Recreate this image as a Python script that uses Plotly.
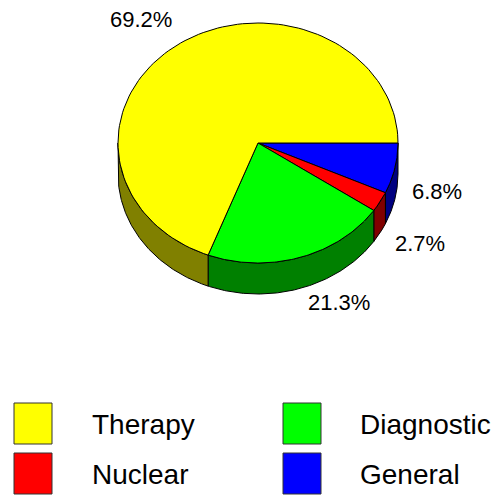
import numpy as np
import plotly.graph_objects as go

# ---- data ----
categories = ["General", "Nuclear", "Diagnostic", "Therapy"]
values = [6.8, 2.7, 21.3, 69.2]
top_colors = ["#0000FF", "#FF0000", "#00FF00", "#FFFF00"]
side_colors = ["#000080", "#800000", "#008000", "#808000"]
legend_order = ["Therapy", "Diagnostic", "Nuclear", "General"]

# ---- style / geometry ----
W, H = 497, 496
CX, CY = 258, 143
RX, RY = 140, 120
DEPTH = 31
FONT = "Liberation Sans, Arial, sans-serif"
label_pos = {"General": (437, 191), "Nuclear": (420, 243),
             "Diagnostic": (339, 302), "Therapy": (141, 19)}

fig = go.Figure()

total = sum(values)
angles = np.cumsum([0] + [v / total * 360 for v in values])


def arc(a0, a1, n=120):
    t = np.radians(np.linspace(a0, a1, n))
    return CX + RX * np.cos(t), CY + RY * np.sin(t)

# side walls (front half: 0..180 deg, clockwise on screen)
for i, c in enumerate(categories):
    a0, a1 = angles[i], angles[i + 1]
    s, e = max(a0, 0), min(a1, 180)
    if e <= s:
        continue
    x, y = arc(s, e)
    xs = np.concatenate([x, x[::-1], x[:1]])
    ys = np.concatenate([y, y[::-1] + DEPTH, y[:1]])
    fig.add_trace(go.Scatter(x=xs, y=ys, mode="lines", fill="toself",
                             fillcolor=side_colors[i],
                             line=dict(color="black", width=1),
                             hoverinfo="skip"))

# top faces
for i, c in enumerate(categories):
    a0, a1 = angles[i], angles[i + 1]
    x, y = arc(a0, a1)
    xs = np.concatenate([[CX], x, [CX]])
    ys = np.concatenate([[CY], y, [CY]])
    fig.add_trace(go.Scatter(x=xs, y=ys, mode="lines", fill="toself",
                             fillcolor=top_colors[i],
                             line=dict(color="black", width=1),
                             hoverinfo="skip", name=c))

annotations = []
for c, v in zip(categories, values):
    lx, ly = label_pos[c]
    annotations.append(dict(x=lx, y=ly, xref="x", yref="y", text=f"{v:.1f}%",
                            showarrow=False, xanchor="center", yanchor="middle",
                            font=dict(family=FONT, size=22, color="black")))

# legend (2x2 grid)
shapes = []
box_x = [14, 283]
box_y = [403, 453]
text_x = [90, 358]
for k, name in enumerate(legend_order):
    col, row = k % 2, k // 2
    i = categories.index(name)
    shapes.append(dict(type="rect", xref="x", yref="y",
                       x0=box_x[col], x1=box_x[col] + 38,
                       y0=box_y[row], y1=box_y[row] + 41,
                       fillcolor=top_colors[i], line=dict(color="#333333", width=1)))
    annotations.append(dict(x=text_x[col], y=box_y[row] + 21, xref="x", yref="y",
                            text=name, showarrow=False, xanchor="left", yanchor="middle",
                            font=dict(family=FONT, size=28, color="black")))

fig.update_layout(
    width=W, height=H, margin=dict(l=0, r=0, t=0, b=0),
    paper_bgcolor="white", plot_bgcolor="white", showlegend=False,
    xaxis=dict(range=[0, W], visible=False, fixedrange=True),
    yaxis=dict(range=[H, 0], visible=False, fixedrange=True),
    shapes=shapes, annotations=annotations,
)

fig.write_html("out.html", config={"displayModeBar": False},
               post_script="document.body.style.margin='0';document.body.style.overflow='hidden';")
